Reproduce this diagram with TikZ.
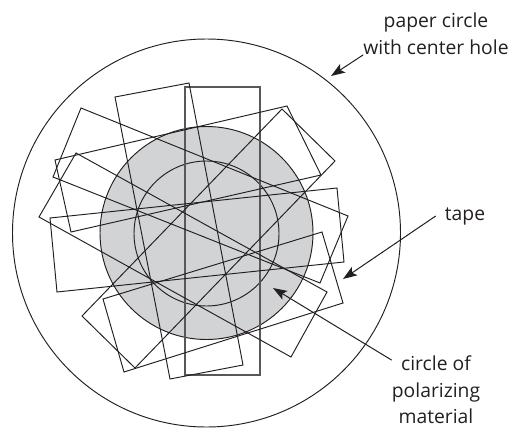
\documentclass[tikz,border=0pt]{standalone}
\usepackage{fontspec}
\usepackage{xcolor}
\usetikzlibrary{arrows.meta}
\setmainfont{Open Sans}
\definecolor{ink}{HTML}{231F20}
\definecolor{polarizer}{HTML}{D1D3D4}
\tikzset{
    tapeline/.style={draw=ink, line width=0.95pt, line join=miter},
    pointer/.style={draw=ink, line width=1pt, -{Stealth[length=14pt, width=10pt, inset=3pt]}},
    callout/.style={align=center, text=ink, font=\fontsize{19.3}{26.5}\selectfont, inner ysep=0pt}
}

\begin{document}
\begin{tikzpicture}[x=1pt,y=-1pt]
    \useasboundingbox (0,0) rectangle (510,428);
    \draw[tapeline] (206.5,233) circle (194);
    \draw[tapeline, fill=polarizer] (206.5,233) circle (106.5);
    \draw[tapeline] (206.5,233.5) circle (72.5);

    \draw[draw=ink!75, line width=1.15pt] (185,87) -- (260,87) -- (260,375) -- (185,375) -- cycle;
    \draw[tapeline] (115,97) -- (189,83) -- (243,365) -- (170,379) -- cycle;
    \draw[tapeline] (76,153) -- (327,292) -- (291,357) -- (39,217) -- cycle;
    \draw[tapeline] (81,108) -- (348,216) -- (320,283) -- (53,177) -- cycle;
    \draw[tapeline] (55,160) -- (287,106) -- (321,175) -- (71,232) -- cycle;
    \draw[tapeline] (50,218) -- (337,188) -- (344,262) -- (57,292) -- cycle;
    \draw[tapeline] (103,299) -- (322,232) -- (343,303) -- (124,372) -- cycle;
    \draw[tapeline] (282,109) -- (335,161) -- (135,368) -- (82,316) -- cycle;

    \node[callout, inner xsep=7pt] (paperlabel) at (436,34) {paper circle\\with center hole};
    \node[callout, inner xsep=9pt] (tapelabel) at (465,216) {tape};
    \node[callout, inner xsep=0pt] (circlelabel) at (436,390) {circle of\\polarizing\\material};

    \coordinate (papertip) at (331,76);
    \coordinate (tapetip) at (343,279);
    \coordinate (circletip) at (273,288);

    \draw[pointer] (paperlabel.196) -- (papertip);
    \draw[pointer] (tapelabel.west) -- (tapetip);
    \draw[pointer] (circlelabel.146) -- (circletip);
\end{tikzpicture}
\end{document}
